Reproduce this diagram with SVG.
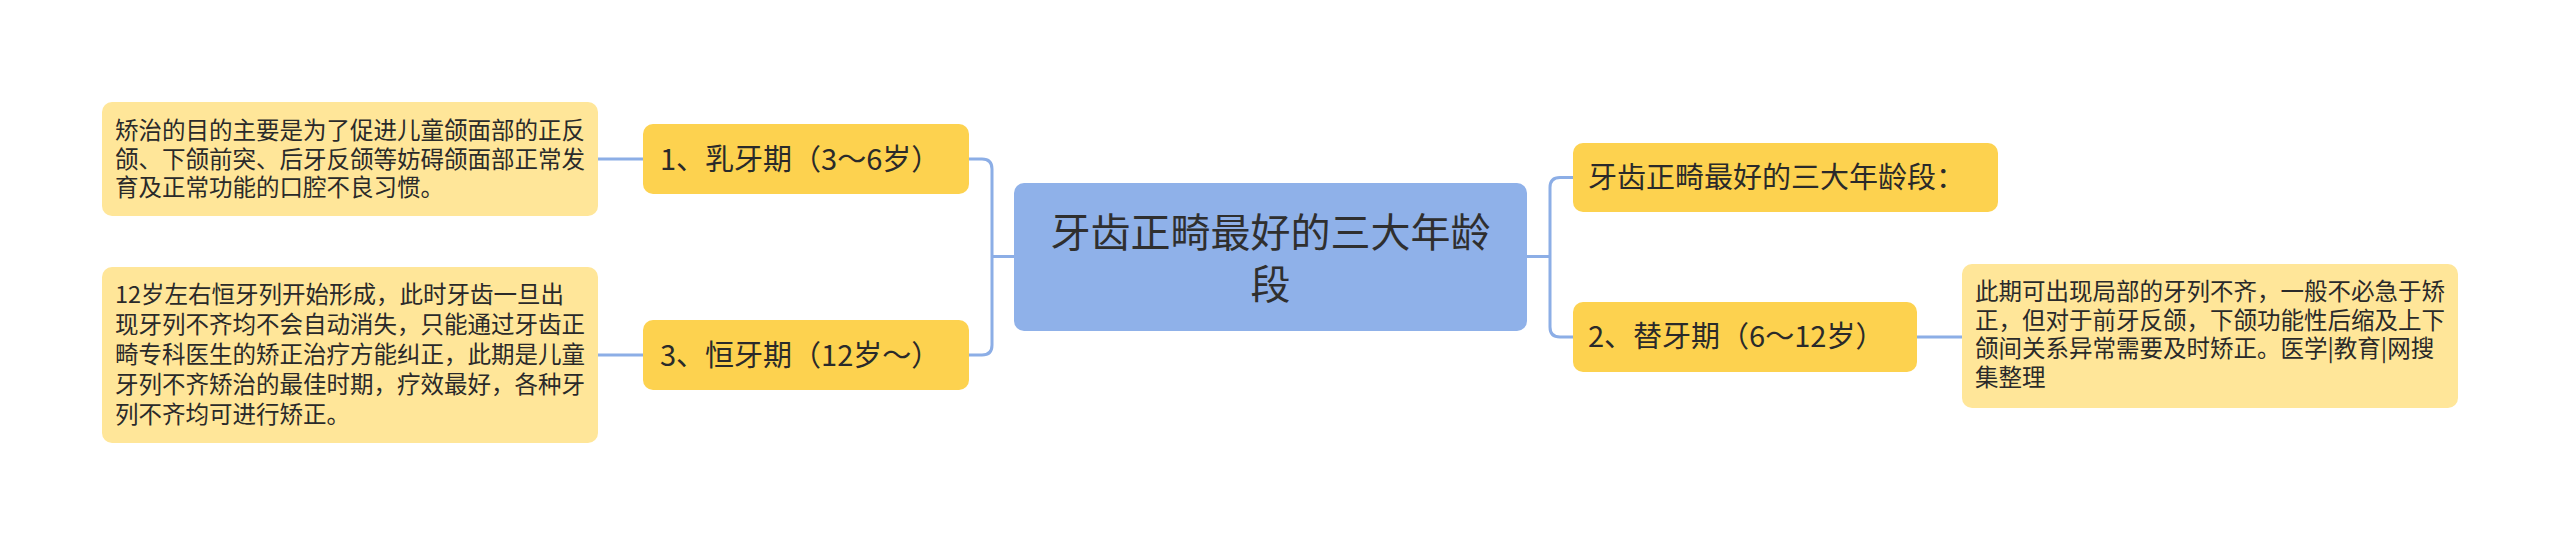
<svg xmlns="http://www.w3.org/2000/svg" width="2560" height="545" viewBox="0 0 2560 545">
<style>
text{font-family:"Noto Sans CJK SC","Noto Sans",sans-serif;fill:#2a2a2a}
.leaf rect{fill:#FFE699}
.sub rect{fill:#FDD24F}
.root rect{fill:#8FB1E9}
.lt{font-size:23.5px}
.st{font-size:29px}
.rt{font-size:40px;fill:#2f2f2f}
.conn path{fill:none;stroke:#8CAEE6;stroke-width:3}
</style>
<rect width="2560" height="545" fill="#ffffff"/>
<g class="conn">
<path d="M1014,256.5 H992"/>
<path d="M969,159 H982 Q992,159 992,169 V345 Q992,355 982,355 H969"/>
<path d="M598,159 H643"/>
<path d="M598,355 H643"/>
<path d="M1527,256.5 H1550"/>
<path d="M1573,177.5 H1560 Q1550,177.5 1550,187.5 V327 Q1550,337 1560,337 H1573"/>
<path d="M1917,337 H1962"/>
</g>
<g id="root" class="root">
<rect x="1014" y="183" width="513" height="148" rx="10"/>
<text class="rt" text-anchor="middle"><tspan x="1270.5" y="247">牙齿正畸最好的三大年龄</tspan><tspan x="1270.5" y="298.5">段</tspan></text>
</g>
<g id="n1" class="sub">
<rect x="643" y="124" width="326" height="70" rx="10"/>
<text class="st" x="660" y="170">1、乳牙期（3～6岁）</text>
</g>
<g id="n3" class="sub">
<rect x="643" y="320" width="326" height="70" rx="10"/>
<text class="st" x="660" y="366">3、恒牙期（12岁～）</text>
</g>
<g id="n0" class="sub">
<rect x="1573" y="143" width="425" height="69" rx="10"/>
<text class="st" x="1588" y="188">牙齿正畸最好的三大年龄段：</text>
</g>
<g id="n2" class="sub">
<rect x="1573" y="302" width="344" height="70" rx="10"/>
<text class="st" x="1588" y="347">2、替牙期（6～12岁）</text>
</g>
<g id="leaf1" class="leaf">
<rect x="102" y="102" width="496" height="114" rx="10"/>
<text class="lt"><tspan x="115" y="139">矫治的目的主要是为了促进儿童颌面部的正反</tspan><tspan x="115" y="167.5">颌、下颌前突、后牙反颌等妨碍颌面部正常发</tspan><tspan x="115" y="196">育及正常功能的口腔不良习惯。</tspan></text>
</g>
<g id="leaf3" class="leaf">
<rect x="102" y="267" width="496" height="176" rx="10"/>
<text class="lt"><tspan x="115" y="303">12岁左右恒牙列开始形成，此时牙齿一旦出</tspan><tspan x="115" y="333">现牙列不齐均不会自动消失，只能通过牙齿正</tspan><tspan x="115" y="363">畸专科医生的矫正治疗方能纠正，此期是儿童</tspan><tspan x="115" y="393">牙列不齐矫治的最佳时期，疗效最好，各种牙</tspan><tspan x="115" y="423">列不齐均可进行矫正。</tspan></text>
</g>
<g id="leaf2" class="leaf">
<rect x="1962" y="264" width="496" height="144" rx="10"/>
<text class="lt"><tspan x="1975" y="300">此期可出现局部的牙列不齐，一般不必急于矫</tspan><tspan x="1975" y="328.5">正，但对于前牙反颌，下颌功能性后缩及上下</tspan><tspan x="1975" y="357">颌间关系异常需要及时矫正。医学|教育|网搜</tspan><tspan x="1975" y="385.5">集整理</tspan></text>
</g>
</svg>
